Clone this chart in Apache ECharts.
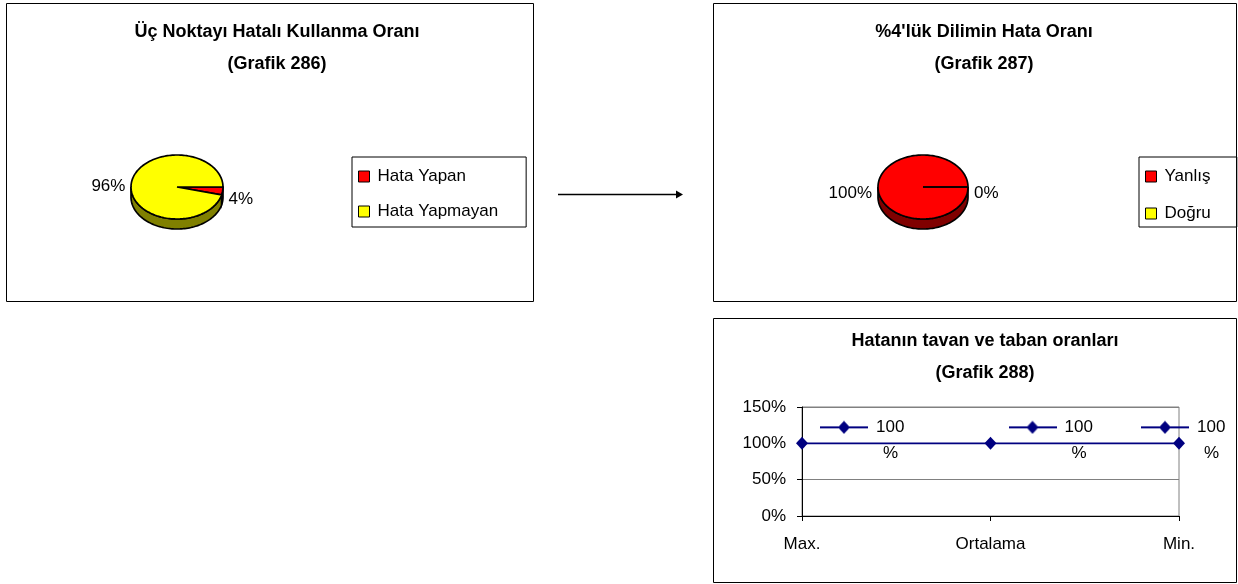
<!DOCTYPE html>
<html>
<head>
<meta charset="utf-8">
<script src="https://cdn.jsdelivr.net/npm/echarts@6/dist/echarts.min.js"></script>
<style>
  html, body { margin: 0; padding: 0; background: #fff; }
  #main { width: 1238px; height: 584px; }
</style>
</head>
<body>
<div id="main"></div>
<script>
// data
const pie1Names = ['Hata Yapan', 'Hata Yapmayan'];
const pie1Values = [4, 96];
const pie2Names = ['Yanlış', 'Doğru'];
const pie2Values = [100, 0];
const lineCats = ['Max.', 'Ortalama', 'Min.'];
const lineValues = [100, 100, 100];

const FONT = '"Liberation Sans", Arial, sans-serif';
const topColors = ['#ff0000', '#ffff00'];
const sideColors = ['#800000', '#808000'];

// pie geometry (flattened 3d look)
const geo1 = { cx: 177, cy: 187, rx: 46, ry: 32, depth: 10 };
const geo2 = { cx: 923, cy: 187, rx: 45, ry: 32, depth: 10 };

function ellPt(g, a, dy) {
    return [g.cx + g.rx * Math.cos(a), g.cy + g.ry * Math.sin(a) + (dy || 0)];
}
function arcPts(g, a0, a1, dy) {
    const n = Math.max(2, Math.ceil(Math.abs(a1 - a0) / (Math.PI / 90)));
    const pts = [];
    for (let i = 0; i <= n; i++) pts.push(ellPt(g, a0 + (a1 - a0) * i / n, dy));
    return pts;
}

// one custom series per slice, so each pie gets its own legend entries
function pieSeries(names, values, g) {
    const total = values.reduce((s, v) => s + v, 0);
    let acc = 0;
    return names.map((name, i) => {
        const a0 = acc / total * Math.PI * 2;
        acc += values[i];
        const a1 = acc / total * Math.PI * 2;
        return {
            type: 'custom',
            name: name,
            coordinateSystem: 'none',
            itemStyle: { color: topColors[i] },
            data: [[values[i]]],
            renderItem: function (params, api) {
                const children = [];
                const w0 = Math.max(a0, 0), w1 = Math.min(a1, Math.PI);
                if (w1 > w0) {
                    const up = arcPts(g, w0, w1, 0);
                    const down = arcPts(g, w1, w0, g.depth);
                    children.push({
                        type: 'polygon',
                        shape: { points: up.concat(down) },
                        style: { fill: sideColors[i], stroke: '#000', lineWidth: 1.7 }
                    });
                }
                children.push({
                    type: 'polygon',
                    shape: { points: [[g.cx, g.cy]].concat(arcPts(g, a0, a1, 0)) },
                    style: { fill: topColors[i], stroke: '#000', lineWidth: 1.7 }
                });
                const mid = (a0 + a1) / 2;
                const c = Math.cos(mid);
                children.push({
                    type: 'text',
                    style: {
                        text: Math.round(api.value(0) / total * 100) + '%',
                        x: g.cx + (g.rx + 6) * c,
                        y: g.cy + 6 + 50 * Math.sin(mid),
                        align: c < 0 ? 'right' : 'left',
                        verticalAlign: 'middle',
                        font: '17px ' + FONT,
                        fill: '#000'
                    }
                });
                return { type: 'group', children: children };
            }
        };
    });
}

// legend key image for the line labels (line + diamond)
const keyImg = document.createElement('canvas');
keyImg.width = 48; keyImg.height = 14;
(function () {
    const ctx = keyImg.getContext('2d');
    ctx.strokeStyle = '#000080';
    ctx.lineWidth = 1.8;
    ctx.beginPath(); ctx.moveTo(0, 7); ctx.lineTo(48, 7); ctx.stroke();
    ctx.fillStyle = '#000080';
    ctx.beginPath(); ctx.moveTo(24, 0.5); ctx.lineTo(30, 7); ctx.lineTo(24, 13.5); ctx.lineTo(18, 7); ctx.closePath(); ctx.fill();
})();

const legendBase = {
    orient: 'vertical',
    itemWidth: 11,
    itemHeight: 11,
    icon: 'rect',
    borderColor: '#000',
    borderWidth: 1,
    itemStyle: { borderColor: '#000', borderWidth: 1 },
    textStyle: { fontSize: 17, fontFamily: FONT, color: '#000', lineHeight: 16, padding: [0, 0, 0, 3] },
    selectedMode: false
};

const titleStyle = { fontSize: 18, fontWeight: 'bold', fontFamily: FONT, color: '#000', lineHeight: 32 };

const option = {
    animation: false,
    title: [
        { text: 'Üç Noktayı Hatalı Kullanma Oranı\n(Grafik 286)', left: 272, top: 11, textAlign: 'center', textStyle: titleStyle },
        { text: "%4'lük Dilimin Hata Oranı\n(Grafik 287)", left: 979, top: 11, textAlign: 'center', textStyle: titleStyle },
        { text: 'Hatanın tavan ve taban oranları\n(Grafik 288)', left: 980, top: 320, textAlign: 'center', textStyle: titleStyle }
    ],
    legend: [
        Object.assign({}, legendBase, { data: pie1Names, left: 352, top: 157, itemGap: 18, padding: [11, 28, 7, 6] }),
        Object.assign({}, legendBase, { data: pie2Names, left: 1139, top: 157, itemGap: 20, padding: [11, 26, 5, 6] })
    ],
    graphic: [
        { type: 'rect', shape: { x: 6.5, y: 3.5, width: 527, height: 298 }, style: { fill: 'none', stroke: '#000', lineWidth: 1 } },
        { type: 'rect', shape: { x: 713.5, y: 3.5, width: 523, height: 298 }, style: { fill: 'none', stroke: '#000', lineWidth: 1 } },
        { type: 'rect', shape: { x: 713.5, y: 318.5, width: 523, height: 264 }, style: { fill: 'none', stroke: '#000', lineWidth: 1 } },
        { type: 'line', shape: { x1: 558, y1: 194.5, x2: 677, y2: 194.5 }, style: { stroke: '#000', lineWidth: 1.5 } },
        { type: 'polygon', shape: { points: [[676, 190.5], [683, 194.5], [676, 198.5]] }, style: { fill: '#000' } }
    ],
    grid: {
        left: 802, top: 407, width: 377, height: 109,
        show: true, borderColor: '#808080', borderWidth: 1
    },
    xAxis: {
        type: 'category',
        data: lineCats,
        boundaryGap: false,
        axisLine: { lineStyle: { color: '#000', width: 1 } },
        axisTick: { show: true, length: 5, alignWithLabel: true, lineStyle: { color: '#000' } },
        axisLabel: { fontSize: 17, fontFamily: FONT, color: '#000', margin: 20, interval: 0 },
        splitLine: { show: false }
    },
    yAxis: {
        type: 'value',
        min: 0, max: 150, interval: 50,
        axisLine: { show: true, lineStyle: { color: '#000', width: 1 } },
        axisTick: { show: true, length: 5, lineStyle: { color: '#000' } },
        axisLabel: { fontSize: 17, fontFamily: FONT, color: '#000', margin: 16, formatter: '{value}%' },
        splitLine: { show: true, lineStyle: { color: '#808080', width: 1 } }
    },
    series: pieSeries(pie1Names, pie1Values, geo1)
        .concat(pieSeries(pie2Names, pie2Values, geo2))
        .concat([{
            type: 'line',
            name: 'oran',
            data: lineValues.map((v, i) => i === lineValues.length - 1 ? { value: v, label: { offset: [-56, -3] } } : v),
            symbol: 'diamond',
            symbolSize: [12, 13],
            lineStyle: { color: '#000080', width: 1.8 },
            itemStyle: { color: '#000080' },
            label: {
                show: true,
                position: 'right',
                distance: 12,
                offset: [0, -3],
                align: 'left',
                formatter: p => '{k|}{v|' + p.value + '}\n{sp|}{p|%}',
                rich: {
                    k: { width: 48, height: 14, backgroundColor: { image: keyImg } },
                    v: { fontSize: 17, fontFamily: FONT, color: '#000', padding: [0, 0, 0, 8], lineHeight: 26 },
                    sp: { width: 63, height: 12 },
                    p: { fontSize: 17, fontFamily: FONT, color: '#000', lineHeight: 26 }
                }
            }
        }])
};

const chart = echarts.init(document.getElementById('main'));
chart.setOption(option);
window.addEventListener('resize', () => { chart.resize(); });
</script>
</body>
</html>
